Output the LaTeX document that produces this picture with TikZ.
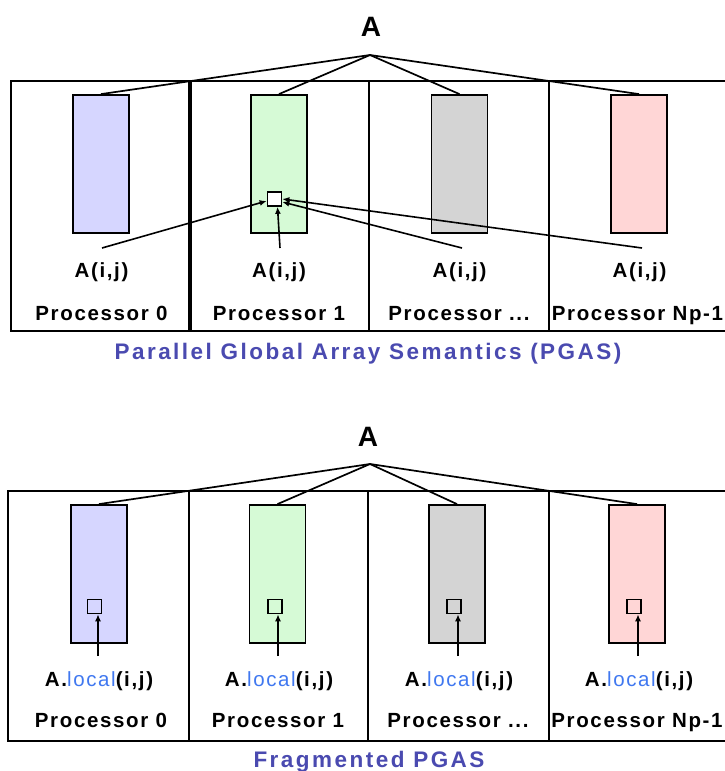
\documentclass[tikz,border=0pt]{standalone}
\usepackage{fontspec}
\setmainfont{Liberation Sans}
\newfontfamily\lblf[LetterSpace=8]{Liberation Sans}
\newfontfamily\capf[LetterSpace=11]{Liberation Sans}
\usetikzlibrary{arrows.meta}
\definecolor{barblue}{RGB}{214,214,255}
\definecolor{bargreen}{RGB}{214,250,214}
\definecolor{bargray}{RGB}{212,212,212}
\definecolor{barpink}{RGB}{255,214,214}
\definecolor{capblue}{RGB}{74,74,176}
\definecolor{locblue}{RGB}{64,120,240}
\begin{document}
\begin{tikzpicture}[x=1pt,y=-1pt,
 frame/.style={line width=2pt},
 thickdiv/.style={line width=3.5pt},
 bar/.style={draw, line width=1.8pt, minimum width=56pt, minimum height=138pt, inner sep=0pt},
 cell/.style={draw, line width=1.7pt, minimum size=14pt, inner sep=0pt},
 conn/.style={line width=1.7pt},
 arr/.style={line width=1.6pt, -{Latex[length=7pt,width=6pt]}},
 lbl/.style={inner sep=0pt, anchor=base, font=\lblf\bfseries\fontsize{20.5}{24}\selectfont},
 ttl/.style={inner sep=0pt, anchor=base, font=\bfseries\fontsize{28}{32}\selectfont},
 captext/.style={inner sep=0pt, anchor=base, text=capblue, font=\capf\bfseries\fontsize{22.5}{26}\selectfont}]
\clip (0,0) rectangle (725,771);
\fill[white] (0,0) rectangle (725,771);

% ---------- top panel ----------
\draw[frame] (11,81) rectangle (760,331);
\draw[thickdiv] (190,81) -- (190,331);
\draw[frame] (369,81) -- (369,331);
\draw[frame] (549,81) -- (549,331);

\node[ttl] (A1) at (371,36) {A};
\coordinate (ap1) at (370,55);

\node[bar, fill=barblue]  (b10) at (101,164) {};
\node[bar, fill=bargreen] (b11) at (279,164) {};
\node[bar, fill=bargray]  (b12) at (459.5,164) {};
\node[bar, fill=barpink]  (b13) at (639,164) {};

\foreach \i in {0,1,2,3} \draw[conn] (ap1) -- (b1\i.north);

\node[cell, fill=white] (sq) at (274.5,199) {};

\node[lbl] (l10) at (101.5,277) {A(i,j)};
\node[lbl] (l11) at (279,277) {A(i,j)};
\node[lbl] (l12) at (459.5,277) {A(i,j)};
\node[lbl] (l13) at (639.5,277) {A(i,j)};

\coordinate (s10) at (102,248);
\coordinate (s11) at (280,248);
\coordinate (s12) at (462,248);
\coordinate (s13) at (642,248);

\draw[arr] (s10) -- ([yshift=-2pt]sq.west);
\draw[arr] (s11) -- ([xshift=3pt]sq.south);
\draw[arr] (s12) -- ([yshift=-3pt]sq.east);
\draw[arr] (s13) -- (sq.east);

\node[lbl] (p10) at (101.5,320) {Processor 0};
\node[lbl] (p11) at (279,320) {Processor 1};
\node[lbl] (p12) at (459,320) {Processor ...};
\node[lbl] (p13) at (637.5,320) {Processor Np-1};

\node[captext] (c1) at (368,359) {Parallel Global Array Semantics (PGAS)};

% ---------- bottom panel ----------
\draw[frame] (8,491) rectangle (760,741);
\draw[frame] (189,491) -- (189,741);
\draw[frame] (368,491) -- (368,741);
\draw[frame] (549,491) -- (549,741);

\node[ttl] (A2) at (368,446) {A};
\coordinate (ap2) at (370,464);

\node[bar, fill=barblue]  (b20) at (99,574) {};
\node[bar, fill=bargreen] (b21) at (277.5,574) {};
\node[bar, fill=bargray]  (b22) at (457,574) {};
\node[bar, fill=barpink]  (b23) at (637,574) {};

\foreach \i in {0,1,2,3} \draw[conn] (ap2) -- (b2\i.north);

\node[cell] (q0) at (94.5,606.5) {};
\node[cell] (q1) at (275,606.5) {};
\node[cell] (q2) at (454,606.5) {};
\node[cell] (q3) at (634,606.5) {};

\coordinate (t0) at (98,656);
\coordinate (t1) at (278,656);
\coordinate (t2) at (458,656);
\coordinate (t3) at (638,656);
\foreach \i in {0,1,2,3} \draw[arr] (t\i) -- (t\i |- q\i.south);

\node[lbl] (l20) at (99,686) {A.\textcolor{locblue}{\mdseries local}(i,j)};
\node[lbl] (l21) at (279,686) {A.\textcolor{locblue}{\mdseries local}(i,j)};
\node[lbl] (l22) at (459,686) {A.\textcolor{locblue}{\mdseries local}(i,j)};
\node[lbl] (l23) at (639,686) {A.\textcolor{locblue}{\mdseries local}(i,j)};

\node[lbl] (p20) at (101,727) {Processor 0};
\node[lbl] (p21) at (278,727) {Processor 1};
\node[lbl] (p22) at (458,727) {Processor ...};
\node[lbl] (p23) at (637,727) {Processor Np-1};

\node[captext] (c2) at (369,767) {Fragmented PGAS};
\end{tikzpicture}
\end{document}
